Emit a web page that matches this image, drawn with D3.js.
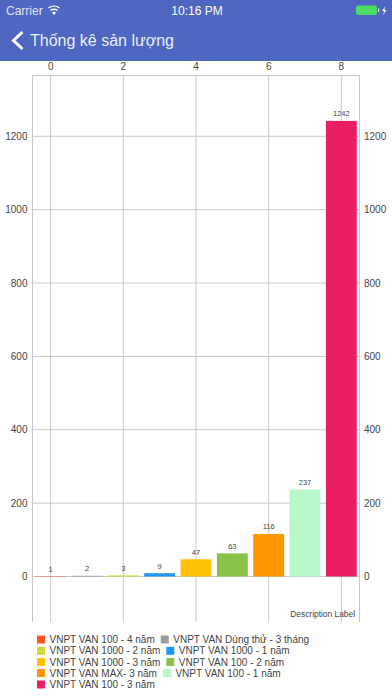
<!DOCTYPE html>
<html><head><meta charset="utf-8">
<script src="https://cdnjs.cloudflare.com/ajax/libs/d3/7.8.5/d3.min.js"></script>
<style>html,body{margin:0;padding:0;background:#fff}svg{display:block}text{font-family:"Liberation Sans",Arial,sans-serif}</style>
</head><body><svg id="c" width="392" height="696"></svg>
<script>
const categories=["VNPT VAN 100 - 4 năm","VNPT VAN Dùng thử - 3 tháng","VNPT VAN 1000 - 2 năm","VNPT VAN 1000 - 1 năm","VNPT VAN 1000 - 3 năm","VNPT VAN 100 - 2 năm","VNPT VAN MAX- 3 năm","VNPT VAN 100 - 1 năm","VNPT VAN 100 - 3 năm"];
const positions=[0,1,2,3,4,5,6,7,8];
const values=[1,2,3,9,47,63,116,237,1242];
const colors=["#FF5722","#9E9E9E","#CDDC39","#2196F3","#FFC107","#8BC34A","#FF9800","#B9F6CA","#E91E63"];
const xTicks=[0,2,4,6,8];
const yTicks=[0,200,400,600,800,1000,1200];
const legendRows=[[0,1],[2,3],[4,5],[6,7],[8]];
const title="Thống kê sản lượng", description="Description Label";

const svg=d3.select("#c");
const grid="#c8c8c8", ink="#444";
const L=32.5,R=359.5,T=75.5,B=622;
const x=d3.scaleLinear().domain([-0.5,8.5]).range([L,R]);
const y=d3.scaleLinear().domain([0,1200]).range([576.5,136.3]);

// header
svg.append("rect").attr("width",392).attr("height",61).attr("fill","#4E67C0");
const hdr=svg.append("g").attr("fill","#fff");
hdr.append("text").attr("x",6).attr("y",15).attr("font-size",12).attr("fill-opacity",.85).text("Carrier");
hdr.append("path").attr("d","M48.5 8a9 9 0 0 1 11 0M50.5 10.5a6 6 0 0 1 7 0").attr("fill","none").attr("stroke","#fff").attr("stroke-width",1.4);
hdr.append("path").attr("d","M52 12.6a3 3 0 0 1 4 0L54 15z");
hdr.append("text").attr("x",197).attr("y",15).attr("font-size",12).attr("text-anchor","middle").text("10:16 PM");
hdr.append("rect").attr("x",356).attr("y",5.5).attr("width",21).attr("height",9.5).attr("rx",2).attr("fill","#4CD964");
hdr.append("rect").attr("x",378).attr("y",8.5).attr("width",1.2).attr("height",3.5).attr("fill-opacity",.8);
hdr.append("path").attr("d","M385.5 6L382 11h2.2L383 15l3.5-5h-2.2z");
hdr.append("path").attr("d","M22.5 32L13.5 40.5L22.5 49").attr("fill","none").attr("stroke","#fff").attr("stroke-width",3);
hdr.append("text").attr("x",30).attr("y",46).attr("font-size",16).attr("fill-opacity",.92).text(title);

// grid
const g=svg.append("g");
g.selectAll("line.v").data(xTicks).join("line").attr("class","v")
 .attr("x1",d=>x(d)).attr("x2",d=>x(d)).attr("y1",T).attr("y2",B).attr("stroke",grid);
g.selectAll("line.h").data(yTicks).join("line").attr("class","h")
 .attr("x1",L).attr("x2",R).attr("y1",d=>y(d)).attr("y2",d=>y(d)).attr("stroke",grid);
g.append("path").attr("d",`M${L} ${B}V${T}H${R}V${B}`).attr("fill","none").attr("stroke",grid);

// bars
const bw=(x(1)-x(0))*0.85;
svg.selectAll("rect.bar").data(values).join("rect").attr("class","bar")
 .attr("x",(d,i)=>x(positions[i])-bw/2).attr("width",bw)
 .attr("y",d=>y(d)).attr("height",d=>y(0)-y(d)).attr("fill",(d,i)=>colors[i]);
svg.selectAll("text.val").data(values).join("text").attr("class","val")
 .attr("x",(d,i)=>x(positions[i])).attr("y",d=>y(d)-4.5).attr("text-anchor","middle")
 .attr("font-size",7.5).attr("fill",ink).text(d=>d);

// axes labels
svg.selectAll("text.xt").data(xTicks).join("text").attr("class","xt")
 .attr("x",d=>x(d)).attr("y",70).attr("text-anchor","middle").attr("font-size",10).attr("fill",ink).text(d=>d);
svg.selectAll("text.yl").data(yTicks).join("text").attr("class","yl")
 .attr("x",27.5).attr("y",d=>y(d)+3.6).attr("text-anchor","end").attr("font-size",10).attr("fill",ink).text(d=>d);
svg.selectAll("text.yr").data(yTicks).join("text").attr("class","yr")
 .attr("x",364).attr("y",d=>y(d)+3.6).attr("font-size",10).attr("fill",ink).text(d=>d);
svg.append("text").attr("x",355).attr("y",616.5).attr("text-anchor","end").attr("font-size",8.4).attr("fill",ink).text(description);

// legend
const rowY=[639.5,650.8,662,673,684.5];
legendRows.forEach((row,r)=>{
  let cx=37;
  row.forEach(i=>{
    const it=svg.append("g");
    it.append("rect").attr("x",cx).attr("y",rowY[r]-4).attr("width",8).attr("height",8).attr("fill",colors[i]);
    const t=it.append("text").attr("x",cx+12.5).attr("y",rowY[r]+3.6).attr("font-size",10).attr("fill",ink).text(categories[i]);
    cx+=12.5+t.node().getComputedTextLength()+6;
  });
});
</script></body></html>
